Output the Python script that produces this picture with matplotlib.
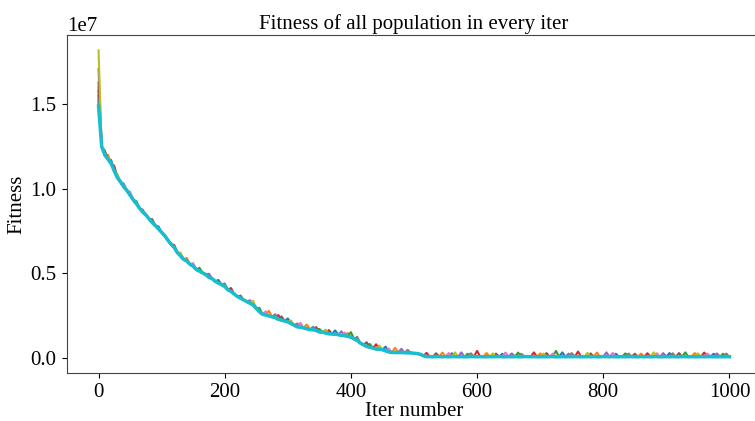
import numpy as np
import matplotlib
matplotlib.use("Agg")
import matplotlib.pyplot as plt

plt.rcParams['font.family'] = ['Liberation Serif', 'DejaVu Serif']

# iterations sampled every 5
iters = list(range(0, 1001, 5))

# best (cyan) series, in units of 1e7
best = [
    1.49, 1.25, 1.20, 1.175, 1.15, 1.105, 1.065, 1.04, 1.012, 0.99,
    0.962, 0.935, 0.912, 0.885, 0.862, 0.845, 0.822, 0.80, 0.782, 0.762,
    0.742, 0.722, 0.695, 0.672, 0.652, 0.622, 0.602, 0.582, 0.572, 0.552,
    0.542, 0.522, 0.512, 0.502, 0.492, 0.475, 0.468, 0.452, 0.442, 0.432,
    0.422, 0.402, 0.392, 0.377, 0.362, 0.352, 0.342, 0.332, 0.322, 0.312,
    0.292, 0.272, 0.257, 0.252, 0.247, 0.242, 0.237, 0.227, 0.222, 0.217,
    0.212, 0.202, 0.192, 0.182, 0.181, 0.176, 0.171, 0.166, 0.165, 0.161,
    0.152, 0.151, 0.146, 0.141, 0.140, 0.139, 0.136, 0.131, 0.130, 0.126,
    0.121, 0.111, 0.101, 0.086, 0.076, 0.066, 0.061, 0.056, 0.051, 0.050,
    0.047, 0.040, 0.034, 0.031, 0.030, 0.030, 0.030, 0.029, 0.028, 0.028,
    0.026, 0.024, 0.020, 0.011, 0.006, 0.006, 0.005, 0.006, 0.006, 0.005,
    0.006, 0.005, 0.006, 0.006, 0.005, 0.006, 0.005, 0.005, 0.006, 0.006,
    0.005, 0.006, 0.005, 0.005, 0.006, 0.005, 0.006, 0.006, 0.005, 0.005,
    0.006, 0.005, 0.006, 0.005, 0.005, 0.006, 0.006, 0.005, 0.006, 0.005,
    0.005, 0.006, 0.005, 0.006, 0.006, 0.005, 0.005, 0.006, 0.005, 0.006,
    0.005, 0.006, 0.006, 0.005, 0.005, 0.006, 0.005, 0.006, 0.005, 0.005,
    0.006, 0.006, 0.005, 0.006, 0.005, 0.005, 0.006, 0.005, 0.006, 0.006,
    0.005, 0.005, 0.006, 0.005, 0.006, 0.005, 0.006, 0.006, 0.005, 0.005,
    0.006, 0.005, 0.006, 0.005, 0.005, 0.006, 0.006, 0.005, 0.006, 0.005,
    0.005, 0.006, 0.005, 0.006, 0.006, 0.005, 0.005, 0.006, 0.005, 0.006,
    0.005,
]

colors = ['#1f77b4', '#ff7f0e', '#2ca02c', '#d62728', '#9467bd',
          '#8c564b', '#e377c2', '#7f7f7f', '#bcbd22']

# starting fitness of each other member (1e7)
starts = [1.55, 1.60, 1.52, 1.58, 1.71, 1.63, 1.50, 1.53, 1.82]

# spikes above the best curve: iterations and heights (1e7)
spike_iters = [
    [20, 95, 190, 300, 375, 455, 560, 640, 735, 820, 905, 975],
    [15, 140, 270, 330, 395, 470, 545, 615, 700, 790, 860, 945],
    [60, 160, 255, 350, 400, 430, 585, 665, 725, 835, 930, 990],
    [25, 120, 210, 285, 365, 440, 520, 600, 690, 760, 870, 960],
    [40, 175, 240, 315, 385, 480, 575, 655, 745, 805, 895, 980],
    [10, 85, 225, 290, 345, 425, 535, 630, 710, 780, 850, 920],
    [50, 150, 265, 320, 390, 460, 555, 645, 720, 815, 885, 965],
    [70, 200, 280, 340, 410, 490, 590, 670, 750, 840, 910, 995],
    [30, 130, 245, 305, 360, 445, 565, 625, 705, 775, 880, 950],
]
spike_heights = [
    [0.020, 0.015, 0.018, 0.020, 0.022, 0.025, 0.020, 0.018, 0.025, 0.018, 0.022, 0.018],
    [0.025, 0.018, 0.030, 0.025, 0.020, 0.028, 0.025, 0.022, 0.020, 0.025, 0.018, 0.022],
    [0.015, 0.020, 0.022, 0.018, 0.030, 0.020, 0.018, 0.025, 0.035, 0.020, 0.025, 0.018],
    [0.030, 0.015, 0.020, 0.025, 0.022, 0.028, 0.022, 0.035, 0.025, 0.030, 0.020, 0.025],
    [0.018, 0.022, 0.018, 0.020, 0.025, 0.022, 0.025, 0.020, 0.018, 0.025, 0.022, 0.020],
    [0.025, 0.020, 0.015, 0.022, 0.020, 0.025, 0.020, 0.018, 0.022, 0.020, 0.018, 0.022],
    [0.020, 0.018, 0.022, 0.025, 0.018, 0.020, 0.022, 0.025, 0.018, 0.022, 0.020, 0.018],
    [0.015, 0.018, 0.020, 0.018, 0.022, 0.018, 0.020, 0.018, 0.022, 0.018, 0.020, 0.018],
    [0.022, 0.020, 0.025, 0.018, 0.020, 0.022, 0.025, 0.020, 0.018, 0.022, 0.025, 0.020],
]

W, H = 755, 421
fig = plt.figure(figsize=(W / 100, H / 100), dpi=100)
ax = fig.add_axes([67 / W, (H - 373) / H, (761 - 67) / W, (373 - 35) / H])

x = np.array(iters)
for c, s, si, sh in zip(colors, starts, spike_iters, spike_heights):
    y = np.array(best, dtype=float)
    y[0] = s
    for it, h in zip(si, sh):
        y[it // 5] += h
    ax.plot(x, y * 1e7, color=c, lw=1.5)
ax.plot(x, np.array(best) * 1e7, color='#17becf', lw=2.5)

ax.set_xlim(-50, 1050)
ax.set_ylim(-0.091e7, 1.911e7)
fs = 15
ax.set_title('Fitness of all population in every iter', fontsize=fs, pad=4)
ax.set_xlabel('Iter number', fontsize=fs, labelpad=0)
ax.set_ylabel('Fitness', fontsize=fs, labelpad=3)
ax.tick_params(labelsize=fs, pad=4)
ax.set_yticks([0, 0.5e7, 1.0e7, 1.5e7])
ax.yaxis.get_offset_text().set_fontsize(fs)
for sp in ax.spines.values():
    sp.set_color('#444444')

fig.savefig('out.png', dpi=100)
